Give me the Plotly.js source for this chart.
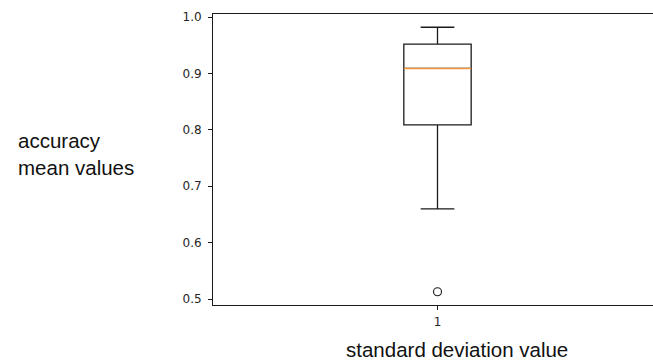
<!DOCTYPE html>
<html>
<head>
<meta charset="utf-8">
<script src="https://cdn.plot.ly/plotly-3.0.1.min.js"></script>
<style>
html,body{margin:0;padding:0;overflow:hidden;background:#fff;}
#chart{width:662px;height:360px;}
</style>
</head>
<body>
<div id="chart"></div>
<script>
// Data
const positions = [1];
const tickLabels = ["1"];
const q1 = [0.809];
const medians = [0.909];
const q3 = [0.952];
const lowerWhisker = [0.660];
const upperWhisker = [0.982];
const outlierX = [1];
const outlierY = [0.513];
const yTicks = [0.5, 0.6, 0.7, 0.8, 0.9, 1.0];

const boxWidth = 0.15;
const ink = '#1a1a1a';

const boxTrace = {
  type: 'box',
  x: positions,
  q1: q1, median: medians, q3: q3,
  lowerfence: lowerWhisker, upperfence: upperWhisker,
  width: boxWidth,
  whiskerwidth: 0.5,
  fillcolor: 'rgba(0,0,0,0)',
  line: {color: ink, width: 1.3},
  boxpoints: false,
  hoverinfo: 'skip',
  showlegend: false
};

const medianTrace = {
  type: 'scatter', mode: 'lines',
  x: [positions[0] - boxWidth/2, positions[0] + boxWidth/2],
  y: [medians[0], medians[0]],
  line: {color: '#f5923e', width: 1.5},
  showlegend: false, hoverinfo: 'skip'
};

const outlierTrace = {
  type: 'scatter', mode: 'markers',
  x: outlierX, y: outlierY,
  marker: {symbol: 'circle-open', size: 8, color: ink, line: {width: 1.1, color: ink}},
  showlegend: false, hoverinfo: 'skip'
};

const tickFont = {family: 'DejaVu Sans', size: 12, color: '#262626'};

const layout = {
  width: 662, height: 360,
  margin: {l: 213, r: 0, t: 14, b: 55},
  paper_bgcolor: '#fff', plot_bgcolor: '#fff',
  showlegend: false,
  xaxis: {
    type: 'linear',
    range: [0.5, 1.5],
    tickmode: 'array', tickvals: positions, ticktext: tickLabels,
    ticks: 'outside', ticklen: 4, tickcolor: ink, tickwidth: 1,
    ticklabelstandoff: 2,
    showgrid: false, zeroline: false,
    showline: true, linecolor: ink, linewidth: 1, mirror: true,
    tickfont: tickFont
  },
  yaxis: {
    range: [0.4895, 1.0055],
    tickmode: 'array', tickvals: yTicks,
    ticktext: yTicks.map(v => v.toFixed(1)),
    ticks: 'outside', ticklen: 4, tickcolor: ink, tickwidth: 1,
    ticklabelstandoff: 4,
    showgrid: false, zeroline: false,
    showline: true, linecolor: ink, linewidth: 1, mirror: true,
    tickfont: tickFont
  },
  annotations: [
    {
      text: 'accuracy<br>mean values',
      xref: 'paper', yref: 'paper',
      x: -213/449 + 16/449, xanchor: 'left',
      y: 1 - (154 - 14)/291, yanchor: 'middle',
      align: 'left', showarrow: false,
      font: {family: 'Liberation Sans, Arial', size: 20.5, color: '#111'}
    },
    {
      text: 'standard deviation value',
      xref: 'paper', yref: 'paper',
      x: (456.5 - 213)/449, xanchor: 'center',
      y: -(350 - 305)/291, yanchor: 'middle',
      showarrow: false,
      font: {family: 'Liberation Sans, Arial', size: 20.5, color: '#111'}
    }
  ]
};

Plotly.newPlot('chart', [boxTrace, medianTrace, outlierTrace], layout, {displayModeBar: false, staticPlot: true});
</script>
</body>
</html>
